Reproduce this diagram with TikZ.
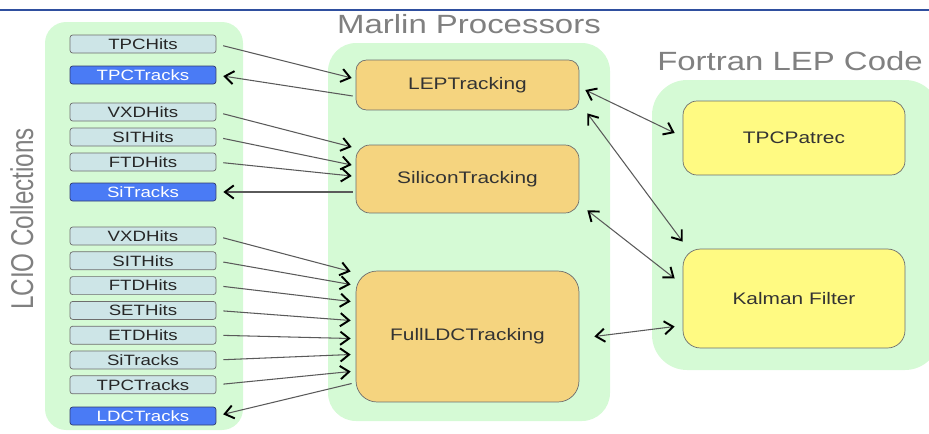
\documentclass[tikz,border=0pt]{standalone}
\usepackage{fontspec}
\setmainfont{Liberation Sans}[FakeStretch=1.25]
\newfontfamily\uprightsans{Liberation Sans}
\usepackage{graphicx}
\usepackage{tikz}
\usetikzlibrary{calc, arrows.meta}
\tikzset{>={Straight Barb[length=5pt,width=7.5pt,line width=1.1pt,color=black]}}
\definecolor{topblue}{RGB}{47, 79, 159}
\definecolor{panelgreen}{RGB}{213, 250, 213}
\definecolor{hitcyan}{RGB}{205, 229, 231}
\definecolor{trackblue}{RGB}{74, 123, 245}
\definecolor{trackedge}{RGB}{50, 60, 110}
\definecolor{marlinorange}{RGB}{245, 212, 127}
\definecolor{lepyellow}{RGB}{255, 250, 130}
\definecolor{titlegray}{RGB}{128, 128, 128}
\definecolor{linkgray}{RGB}{90, 90, 90}
\definecolor{boxedge}{RGB}{110, 110, 110}

\begin{document}
\begin{tikzpicture}[x=0.02cm, y=-0.02cm,
    hits/.style={draw=boxedge,fill=hitcyan,rounded corners=1.5pt,minimum width=2.92cm,minimum height=0.36cm,inner sep=0pt,font=\fontsize{8.5}{10}\selectfont,text=black!85},
    tracks/.style={hits,fill=trackblue,draw=trackedge,text=white},
    marlin/.style={draw=boxedge,fill=marlinorange,minimum width=4.46cm,inner sep=0pt,font=\fontsize{9.5}{11}\selectfont,text=black!80},
    lepcode/.style={marlin,fill=lepyellow,minimum width=4.44cm},
    heading/.style={text=titlegray,font=\fontsize{15}{18}\selectfont,anchor=base,inner sep=0pt},
    feed/.style={->,draw=linkgray,line width=0.6pt,shorten <=4pt},
    store/.style={->,draw=linkgray,line width=0.6pt,shorten >=4pt},
    dflow/.style={<->,draw=linkgray,line width=0.6pt}
  ]

  \clip (0,0) rectangle (929,433);
  \draw[topblue, line width=0.7pt] (0,10) -- (929,10);

  \fill[panelgreen, rounded corners=12pt] (45,22) rectangle (243,430);
  \fill[panelgreen, rounded corners=16pt] (328,43) rectangle (610,421);
  \fill[panelgreen, rounded corners=20pt] (652,80) rectangle (940,370);

  \node[heading] (marlintitle) at (469,33) {Marlin Processors};
  \node[heading] (fortrantitle) at (790,70) {Fortran LEP Code};
  \node[heading, rotate=90, font=\uprightsans\fontsize{13.8}{16}\selectfont] (lciotitle) at (33,219) {\scalebox{1}[1.3]{LCIO Collections}};

  \node[marlin, minimum height=1cm, rounded corners=6pt] (lep) at (467.5,85) {LEPTracking};
  \node[marlin, minimum height=1.36cm, rounded corners=8pt] (si) at (467.5,179) {SiliconTracking};
  \node[marlin, minimum height=2.62cm, rounded corners=12pt] (full) at (467.5,336.5) {FullLDCTracking};
  \node[lepcode, minimum height=1.48cm, rounded corners=8pt] (patrec) at (794,138) {TPCPatrec};
  \node[lepcode, minimum height=1.98cm, rounded corners=10pt] (kalman) at (794,298.5) {Kalman Filter};

  \node[hits] (tpchits) at (143,44) {TPCHits};
  \node[tracks] (tpctracks) at (143,75) {TPCTracks};
  \node[hits] (vxdhits) at (143,112) {VXDHits};
  \node[hits] (sithits) at (143,137) {SITHits};
  \node[hits] (ftdhits) at (143,162) {FTDHits};
  \node[tracks] (sitracks) at (143,192) {SiTracks};

  \def \step {24.8}
  \foreach \n/\t [count=\i from 0] in {vxd2/VXDHits, sit2/SITHits, ftd2/FTDHits, set2/SETHits, etd2/ETDHits, sitrk2/SiTracks, tpctrk2/TPCTracks} {
      \node[hits] (\n) at (143,{236+\step*\i}) {\t};
  }
  \node[tracks] (ldctracks) at (143,416) {LDCTracks};

  \draw[feed] (tpchits.east) -- ($(lep.west)+(-4,-7)$);
  \draw[store] ($(lep.west)+(-3,11)$) -- (tpctracks.east);

  \draw[feed] (vxdhits.east) -- ($(si.west)+(-4,-32)$);
  \draw[feed] (sithits.east) -- ($(si.west)+(-4,-14)$);
  \draw[feed] (ftdhits.east) -- ($(si.west)+(-4,-3)$);
  \draw[store] ($(si.west)+(-3,13)$) -- (sitracks.east);

  \foreach \n/\dy in {vxd2/-65, sit2/-52, ftd2/-35, set2/-16, etd2/2, sitrk2/18, tpctrk2/35} {
      \draw[feed] (\n.east) -- ($(full.west)+(-5,\dy)$);
  }
  \draw[store] ($(full.west)+(-4,47)$) -- (ldctracks.east);

  \draw[dflow] ($(lep.east)+(6,5)$) -- ($(patrec.west)+(-8,-5)$);
  \draw[dflow] ($(lep.south east)+(8,3)$) -- ($(kalman.north west)+(0,-7)$);
  \draw[dflow] ($(si.south east)+(8,-3)$) -- ($(kalman.west)+(-8,-20)$);
  \draw[dflow] ($(full.east)+(15,0)$) -- ($(kalman.west)+(-8,28)$);

\end{tikzpicture}
\end{document}
